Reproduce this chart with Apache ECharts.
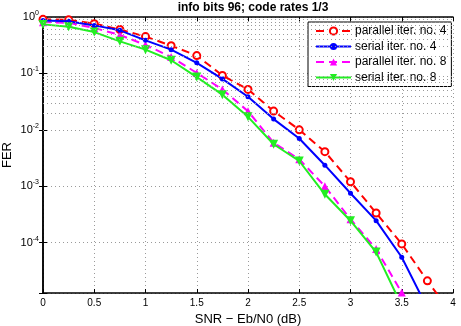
<!DOCTYPE html>
<html>
<head>
<meta charset="utf-8">
<script src="https://cdn.jsdelivr.net/npm/echarts@6/dist/echarts.min.js"></script>
<style>
  html, body { margin: 0; padding: 0; background: #fff; }
  #chart { width: 461px; height: 326px; }
</style>
</head>
<body>
<div id="chart"></div>
<script>
// SNR - Eb/N0 (dB)
var snr = [0, 0.25, 0.5, 0.75, 1, 1.25, 1.5, 1.75, 2, 2.25, 2.5, 2.75, 3, 3.25, 3.5, 3.75, 4];

// FER per decoder
var parallel4 = [0.91, 0.89, 0.76, 0.6, 0.45, 0.31, 0.207, 0.092, 0.052, 0.0215, 0.01, 0.0041, 0.0012, 3.35e-4, 9.5e-5, 2.1e-5, 5.1e-6];
var serial4 = [0.87, 0.84, 0.71, 0.58, 0.386, 0.264, 0.154, 0.08, 0.0386, 0.0155, 0.007, 0.00236, 7.5e-4, 2.45e-4, 5.5e-5, 6.9e-6];
var parallel8 = [0.81, 0.79, 0.64, 0.48, 0.32, 0.196, 0.102, 0.052, 0.0214, 0.0059, 0.003, 0.001, 2.6e-4, 7.7e-5, 1.3e-5];
var serial8 = [0.74, 0.67, 0.54, 0.37, 0.264, 0.171, 0.086, 0.042, 0.017, 0.00555, 0.0028, 7.2e-4, 2.45e-4, 6.8e-5, 7.6e-6];

var names = ['parallel iter. no. 4', 'serial iter. no. 4', 'parallel iter. no. 8', 'serial iter. no. 8'];
var xTicks = ['0', '0.5', '1', '1.5', '2', '2.5', '3', '3.5', '4'];

var yMin = 1.28e-5, yMax = 1;

function pairs(ys) {
    return ys.map(function (v, i) { return [snr[i], v]; });
}

// minor grid lines 2..9 x 10^k
var minorGrid = [];
for (var e = -5; e < 0; e++) {
    for (var m = 2; m <= 9; m++) {
        var v = m * Math.pow(10, e);
        if (v >= yMin) minorGrid.push({ yAxis: v });
    }
}

var font = 'Liberation Sans, Arial, sans-serif';
var myChart = echarts.init(document.getElementById('chart'));

function powLabel(v) {
    var l = Math.log10(v);
    var k = Math.round(l);
    if (Math.abs(l - k) > 1e-6) return '';
    return '{b|10}{s|' + k + '}';
}

var option = {
    animation: false,
    backgroundColor: '#fff',
    title: {
        text: 'info bits 96; code rates 1/3',
        left: 248,
        textAlign: 'center',
        top: -3,
        textStyle: { fontFamily: font, fontSize: 12, fontWeight: 'bold', color: '#000' }
    },
    legend: {
        orient: 'vertical',
        left: 308,
        top: 22,
        data: names,
        itemWidth: 35,
        itemHeight: 9,
        itemGap: 3.5,
        padding: [3, 5, 3, 7],
        borderColor: '#000',
        borderWidth: 1,
        backgroundColor: '#fff',
        textStyle: { fontFamily: font, fontSize: 12, lineHeight: 9, color: '#000', padding: [0, 0, 0, -1] }
    },
    grid: { left: 43, right: 8, top: 17, bottom: 33, outerBoundsMode: 'none' },
    xAxis: [{
        type: 'value',
        min: 0, max: 4, interval: 0.5,
        name: 'SNR \u2212 Eb/N0 (dB)',
        nameLocation: 'middle',
        nameGap: 18,
        nameTextStyle: { fontFamily: font, fontSize: 13, color: '#000' },
        axisLine: { lineStyle: { color: '#000', width: 1.5 } },
        axisTick: { inside: true, length: 4, lineStyle: { color: '#000' } },
        axisLabel: {
            fontFamily: font, fontSize: 10, color: '#000', margin: 5,
            formatter: function (v) { return xTicks[Math.round(v * 2)]; }
        },
        splitLine: { show: true, lineStyle: { color: '#9a9a9a', type: [1, 3], width: 1 } }
    }, {
        type: 'value',
        position: 'top',
        min: 0, max: 4, interval: 0.5,
        axisLine: { lineStyle: { color: '#000', width: 1.5 } },
        axisTick: { inside: true, length: 4, lineStyle: { color: '#000' } },
        axisLabel: { show: false },
        splitLine: { show: false }
    }],
    yAxis: [{
        type: 'log',
        logBase: 10,
        min: yMin, max: yMax,
        name: 'FER',
        nameLocation: 'middle',
        nameGap: 29,
        nameMoveOverlap: false,
        nameTextStyle: { fontFamily: font, fontSize: 13, color: '#000' },
        axisLine: { lineStyle: { color: '#000', width: 1.5 } },
        axisTick: { inside: true, length: 4, lineStyle: { color: '#000' } },
        axisLabel: {
            margin: 4,
            formatter: powLabel,
            rich: {
                b: { fontFamily: font, fontSize: 11, color: '#000' },
                s: { fontFamily: font, fontSize: 7, color: '#000', padding: [0, 0, 8, 0] }
            }
        },
        splitLine: { show: true, lineStyle: { color: '#9a9a9a', type: [1, 3], width: 1 } }
    }, {
        type: 'log',
        logBase: 10,
        position: 'right',
        min: yMin, max: yMax,
        axisLine: { lineStyle: { color: '#000', width: 1.5 } },
        axisTick: { inside: true, length: 4, lineStyle: { color: '#000' } },
        axisLabel: { show: false },
        splitLine: { show: false }
    }],
    series: [{
        name: 'grid',
        type: 'line',
        data: [],
        z: 1,
        silent: true,
        markLine: {
            silent: true,
            symbol: 'none',
            label: { show: false },
            lineStyle: { color: '#9a9a9a', type: [1, 3], width: 1 },
            data: minorGrid
        }
    }, {
        name: names[0],
        type: 'line',
        data: pairs(parallel4),
        z: 3,
        symbol: 'emptyCircle',
        symbolSize: 7,
        color: '#ff0000',
        lineStyle: { color: '#ff0000', width: 2, type: [8, 5] },
        itemStyle: { color: '#ff0000', borderWidth: 2 }
    }, {
        name: names[1],
        type: 'line',
        data: pairs(serial4),
        z: 4,
        symbol: 'circle',
        symbolSize: 5,
        color: '#0000ff',
        lineStyle: { color: '#0000ff', width: 2 },
        itemStyle: { color: '#0000ff' }
    }, {
        name: names[2],
        type: 'line',
        data: pairs(parallel8),
        z: 3,
        symbol: 'triangle',
        symbolSize: 8,
        color: '#ff00ff',
        lineStyle: { color: '#ff00ff', width: 2, type: [8, 5] },
        itemStyle: { color: '#ff00ff' }
    }, {
        name: names[3],
        type: 'line',
        data: pairs(serial8),
        z: 4,
        symbol: 'path://M0,0 L10,0 L5,9 Z',
        symbolSize: 9,
        color: '#22ee22',
        lineStyle: { color: '#22ee22', width: 2 },
        itemStyle: { color: '#22ee22' }
    }]
};

myChart.setOption(option);
</script>
</body>
</html>
